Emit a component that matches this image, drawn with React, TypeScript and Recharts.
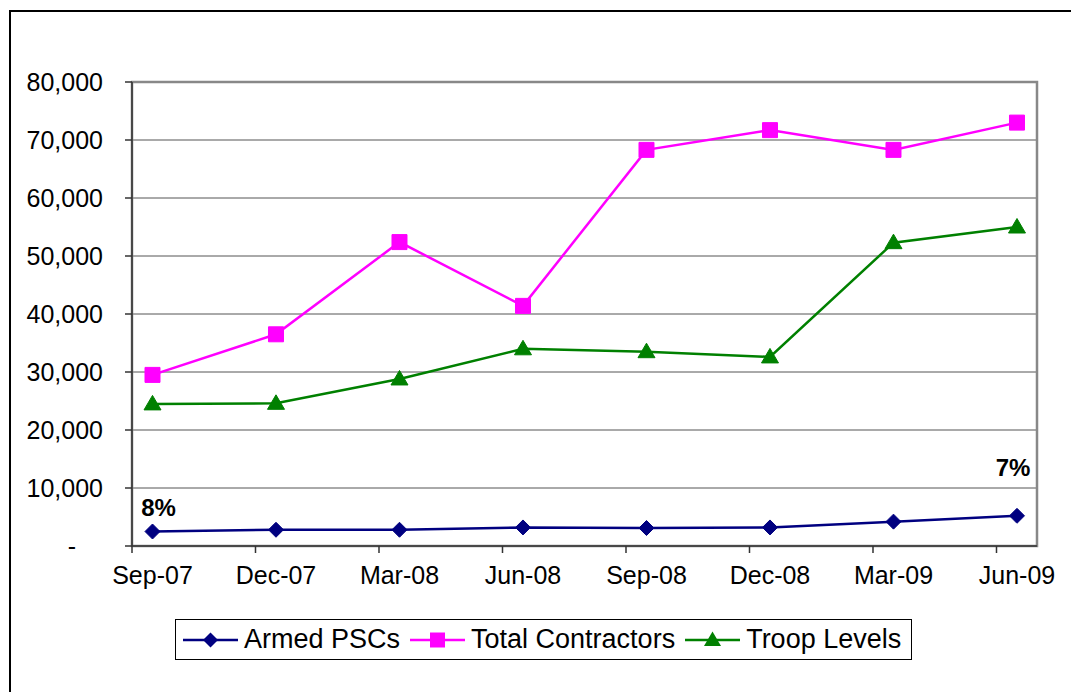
import React from "react";
import {
  LineChart,
  Line,
  XAxis,
  YAxis,
  CartesianGrid,
  ReferenceArea,
  LabelList,
} from "recharts";

const months = ["Sep-07", "Dec-07", "Mar-08", "Jun-08", "Sep-08", "Dec-08", "Mar-09", "Jun-09"];
const armedPSCs = [2500, 2800, 2800, 3200, 3100, 3200, 4200, 5200];
const totalContractors = [29500, 36500, 52400, 41400, 68300, 71700, 68300, 73000];
const troopLevels = [24500, 24600, 28800, 34000, 33500, 32600, 52300, 55000];
const armedShare = ["8%", "", "", "", "", "", "", "7%"];
const yTicks = [0, 10000, 20000, 30000, 40000, 50000, 60000, 70000, 80000];
const xTicks = months.map((_, i) => i);

const data = months.map((month, i) => ({
  idx: i,
  month,
  armed: armedPSCs[i],
  total: totalContractors[i],
  troop: troopLevels[i],
  share: armedShare[i],
}));

const FONT = "'Liberation Sans', Arial, sans-serif";
const NAVY = "#000080";
const MAGENTA = "#ff00ff";
const GREEN = "#008000";

type Shape = "diamond" | "square" | "triangle";

function markerPath(shape: Shape, x: number, y: number) {
  if (shape === "diamond") return `M${x},${y - 7.5}L${x + 7.5},${y}L${x},${y + 7.5}L${x - 7.5},${y}Z`;
  if (shape === "square") return `M${x - 7.5},${y - 7.5}h15v15h-15Z`;
  return `M${x},${y - 8.5}L${x + 8.5},${y + 6}L${x - 8.5},${y + 6}Z`;
}

const makeDot = (shape: Shape, color: string) => (props: any) => {
  const { cx, cy, index } = props;
  if (cx == null || cy == null) return <g key={index} />;
  return <path key={index} d={markerPath(shape, cx, cy)} fill={color} stroke={color} strokeWidth={1} />;
};

function XTick(props: any) {
  const { x, y, payload } = props;
  const axisY = y - 7;
  return (
    <g>
      <line x1={x - 20.5} x2={x - 20.5} y1={axisY} y2={axisY + 7} stroke="#333" strokeWidth={1.5} />
      <text x={x} y={axisY + 38} textAnchor="middle" fontSize={25} fontFamily={FONT} fill="#000">
        {months[payload.value]}
      </text>
    </g>
  );
}

function YTick(props: any) {
  const { x, y, payload } = props;
  const v = payload.value as number;
  if (v === 0) {
    return (
      <text x={x - 53} y={y} dy="0.355em" textAnchor="middle" fontSize={25} fontFamily={FONT} fill="#000">
        -
      </text>
    );
  }
  return (
    <text x={x - 22} y={y} dy="0.355em" textAnchor="end" fontSize={25} fontFamily={FONT} fill="#000">
      {v.toLocaleString("en-US")}
    </text>
  );
}

function ShareLabel(props: any) {
  const { x, y, value, index } = props;
  if (!value) return null;
  const dx = index === 0 ? 6 : -4;
  const dy = index === 0 ? -24 : -48;
  return (
    <text
      x={x + dx}
      y={y + dy}
      dy="0.355em"
      textAnchor="middle"
      fontSize={24}
      fontWeight="bold"
      fontFamily={FONT}
      fill="#000"
    >
      {value}
    </text>
  );
}

function LegendIcon({ shape, color }: { shape: Shape; color: string }) {
  return (
    <svg width={55} height={20} style={{ display: "block" }}>
      <line x1={0} x2={55} y1={10} y2={10} stroke={color} strokeWidth={2.5} />
      <path d={markerPath(shape, 27.5, 10)} fill={color} />
    </svg>
  );
}

const legendItems: { name: string; shape: Shape; color: string }[] = [
  { name: "Armed PSCs", shape: "diamond", color: NAVY },
  { name: "Total Contractors", shape: "square", color: MAGENTA },
  { name: "Troop Levels", shape: "triangle", color: GREEN },
];

export default function App() {
  return (
    <div
      style={{
        position: "absolute",
        left: 0,
        top: 0,
        width: 1071,
        height: 692,
        overflow: "hidden",
        background: "#fff",
        fontFamily: FONT,
      }}
    >
      <div
        style={{
          position: "absolute",
          left: 9,
          top: 10,
          width: 1120,
          height: 720,
          border: "2px solid #000",
        }}
      />
      <div style={{ position: "absolute", left: 0, top: 0 }}>
        <LineChart width={1071} height={692} data={data} margin={{ top: 82, right: 34, bottom: 0, left: 0 }}>
          <CartesianGrid vertical={false} stroke="#555" strokeWidth={1} />
          <ReferenceArea
            x1={-0.166}
            x2={7.162}
            y1={0}
            y2={80000}
            fill="none"
            stroke="#888"
            strokeWidth={2.5}
            ifOverflow="visible"
          />
          <XAxis
            type="number"
            dataKey="idx"
            domain={[-0.166, 7.162]}
            ticks={xTicks}
            interval={0}
            height={146}
            tickSize={7}
            tickMargin={0}
            tickLine={false}
            tick={<XTick />}
            axisLine={{ stroke: "#333", strokeWidth: 1.5 }}
          />
          <YAxis
            type="number"
            domain={[0, 80000]}
            ticks={yTicks}
            width={132}
            tickSize={7}
            tickMargin={0}
            interval={0}
            tick={<YTick />}
            tickLine={{ stroke: "#333", strokeWidth: 1.5 }}
            axisLine={{ stroke: "#333", strokeWidth: 1.5 }}
          />
          <Line
            dataKey="total"
            stroke={MAGENTA}
            strokeWidth={2.5}
            dot={makeDot("square", MAGENTA)}
            activeDot={false}
            isAnimationActive={false}
          />
          <Line
            dataKey="troop"
            stroke={GREEN}
            strokeWidth={2.5}
            dot={makeDot("triangle", GREEN)}
            activeDot={false}
            isAnimationActive={false}
          />
          <Line
            dataKey="armed"
            stroke={NAVY}
            strokeWidth={2.5}
            dot={makeDot("diamond", NAVY)}
            activeDot={false}
            isAnimationActive={false}
          >
            <LabelList dataKey="share" content={<ShareLabel />} />
          </Line>
        </LineChart>
      </div>
      <div
        style={{
          position: "absolute",
          left: 175,
          top: 619,
          width: 737,
          height: 41,
          border: "1px solid #000",
          display: "flex",
          alignItems: "center",
          paddingLeft: 7,
          boxSizing: "border-box",
          whiteSpace: "nowrap",
        }}
      >
        {legendItems.map((it) => (
          <div key={it.name} style={{ display: "flex", alignItems: "center", marginRight: 10 }}>
            <LegendIcon shape={it.shape} color={it.color} />
            <span style={{ fontSize: 27, marginLeft: 6, color: "#000", lineHeight: "39px" }}>{it.name}</span>
          </div>
        ))}
      </div>
    </div>
  );
}
